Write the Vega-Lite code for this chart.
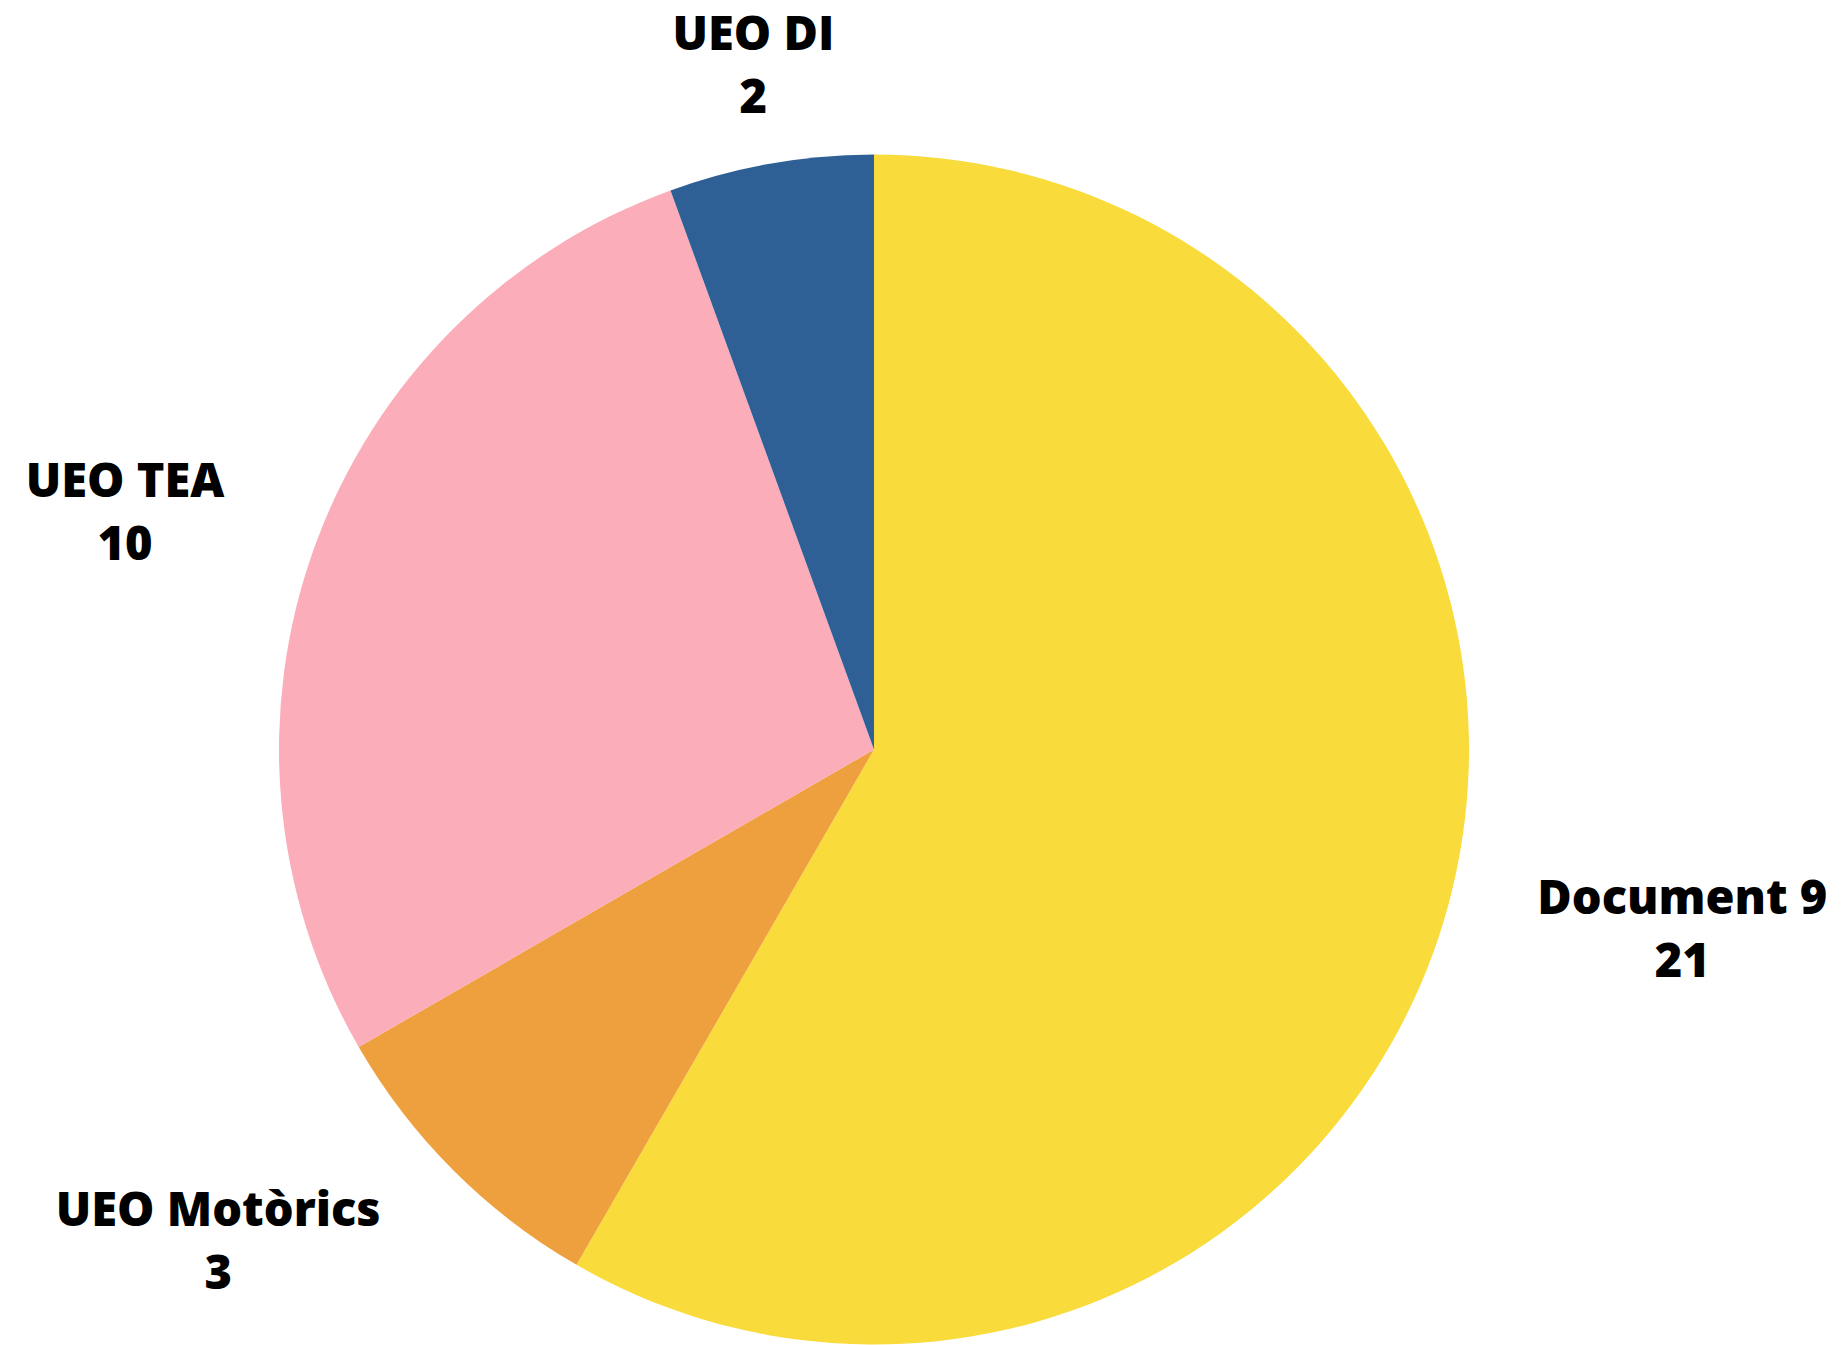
{
  "$schema": "https://vega.github.io/schema/vega-lite/v6.json",
  "autosize": "none",
  "width": 1748,
  "height": 1191,
  "padding": {"left": 0, "top": 154, "right": 96, "bottom": 0},
  "background": "white",
  "config": {"view": {"stroke": null}},
  "data": {
    "values": [
      {"category": "Document 9", "value": 21, "n": 1},
      {"category": "UEO Motòrics", "value": 3, "n": 2},
      {"category": "UEO TEA", "value": 10, "n": 3},
      {"category": "UEO DI", "value": 2, "n": 4}
    ]
  },
  "transform": [
    {"calculate": "datum.category + '\\n' + datum.value", "as": "label"}
  ],
  "encoding": {
    "theta": {"field": "value", "type": "quantitative", "stack": true},
    "order": {"field": "n", "type": "quantitative"},
    "color": {
      "field": "category",
      "type": "nominal",
      "legend": null,
      "scale": {
        "domain": ["Document 9", "UEO Motòrics", "UEO TEA", "UEO DI"],
        "range": ["#F9DB3B", "#EEA03E", "#FBADB9", "#2E6096"]
      }
    }
  },
  "layer": [
    {"mark": {"type": "arc", "outerRadius": 595, "stroke": null}},
    {
      "mark": {
        "type": "text",
        "radius": 695,
        "font": "Open Sans",
        "fontWeight": 800,
        "fontSize": 47,
        "lineHeight": 63,
        "lineBreak": "\n",
        "baseline": "middle",
        "align": "center",
        "dy": -29,
        "dx": {"expr": "(sin(scale('theta', 0.5*datum.value_start + 0.5*datum.value_end)) > 0.5 ? 1 : (sin(scale('theta', 0.5*datum.value_start + 0.5*datum.value_end)) < -0.5 ? -1 : 0)) * length(datum.category) * 13.7"}
      },
      "encoding": {
        "text": {"field": "label", "type": "nominal"},
        "color": {"value": "black"}
      }
    }
  ]
}
